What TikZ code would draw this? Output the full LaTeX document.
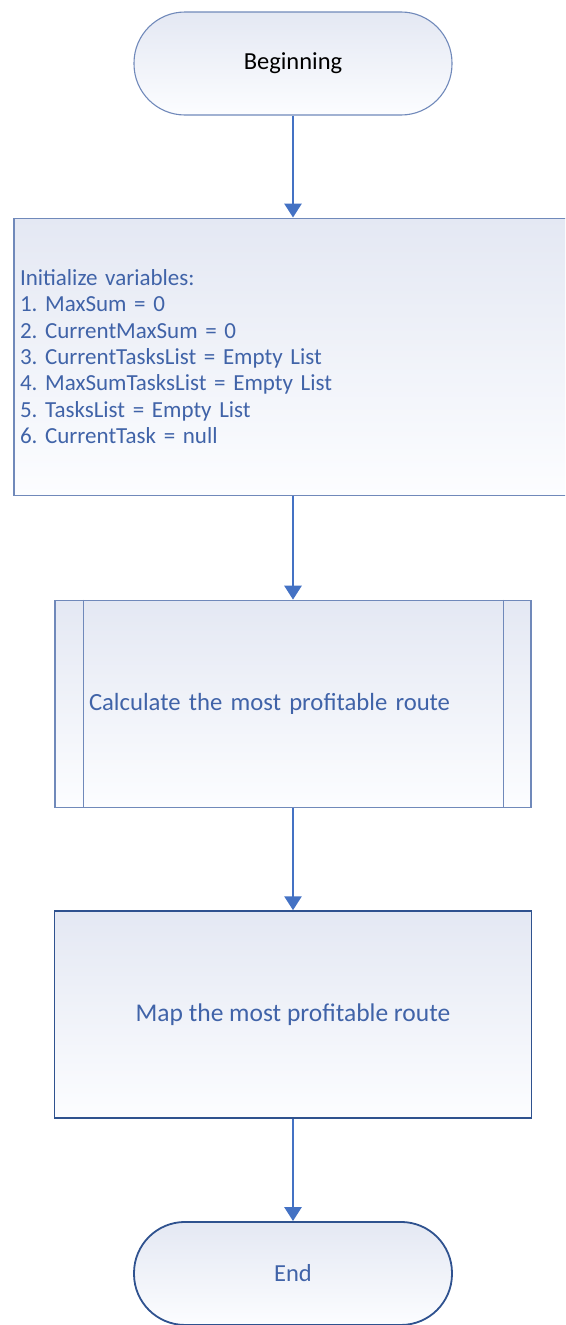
\documentclass[tikz,border=0pt]{standalone}
\usepackage{fontspec}
\setmainfont{Carlito}
\usepackage{xcolor}
\usetikzlibrary{arrows.meta, positioning}

\definecolor{flowline}{RGB}{68,114,196}
\definecolor{flowtext}{RGB}{64,99,168}
\definecolor{edgelight}{RGB}{112,137,186}
\definecolor{edgedark}{RGB}{47,82,143}
\definecolor{shadetop}{RGB}{228,232,243}
\definecolor{shadebot}{RGB}{252,253,255}

\frenchspacing
\begin{document}
\begin{tikzpicture}[
    node distance=102.5pt,
    terminal/.style={draw=edgelight, line width=1.1pt, rectangle, rounded corners=51pt, minimum width=318pt, minimum height=103pt, top color=shadetop, bottom color=shadebot, font=\fontsize{24.5}{28}\selectfont},
    initbox/.style={draw=edgelight, line width=1.1pt, rectangle, minimum width=558pt, minimum height=277pt, text width=546pt, inner xsep=6pt, align=left, top color=shadetop, bottom color=shadebot, text=flowtext, font=\fontsize{23}{26.4}\selectfont},
    subproc/.style={draw=edgelight, line width=1.1pt, rectangle, minimum width=476pt, minimum height=207pt, top color=shadetop, bottom color=shadebot, text=flowtext, font=\fontsize{24.7}{28}\selectfont},
    process/.style={draw=edgedark, line width=1.8pt, rectangle, minimum width=477pt, minimum height=207pt, top color=shadetop, bottom color=shadebot, text=flowtext, font=\fontsize{25.5}{28}\selectfont},
    arrow/.style={-{Triangle[width=17pt,length=14pt]}, line width=2.8pt, draw=flowline}
]
\clip (0,0) rectangle (565pt,-1325pt);
\useasboundingbox (0,0) rectangle (565pt,-1325pt);

% Nodes
\node (begin) [terminal] at (293pt,-63.5pt) {Beginning};
\node (init) [initbox, below=102pt of begin] {Initialize variables:\\1. MaxSum = 0\\2. CurrentMaxSum = 0\\3. CurrentTasksList = Empty List\\4. MaxSumTasksList = Empty List\\5. TasksList = Empty List\\6. CurrentTask = null};
\node (calc) [subproc, below=104pt of init, text width=408pt, align=left] {Calculate the most profitable route};
\node (map) [process, below=of calc] {Map the most profitable route};
\node (end) [terminal, below=102pt of map, draw=edgedark, line width=1.8pt, text=flowtext] {End};

% Side bars of the subprocess
\draw [draw=edgelight, line width=1.1pt] ([xshift=29pt]calc.north west) -- ([xshift=29pt]calc.south west);
\draw [draw=edgelight, line width=1.1pt] ([xshift=-28pt]calc.north east) -- ([xshift=-28pt]calc.south east);

% Paths
\draw [arrow] (begin) -- (init);
\draw [arrow] (init) -- (calc);
\draw [arrow] (calc) -- (map);
\draw [arrow] (map) -- (end);

\end{tikzpicture}
\end{document}
